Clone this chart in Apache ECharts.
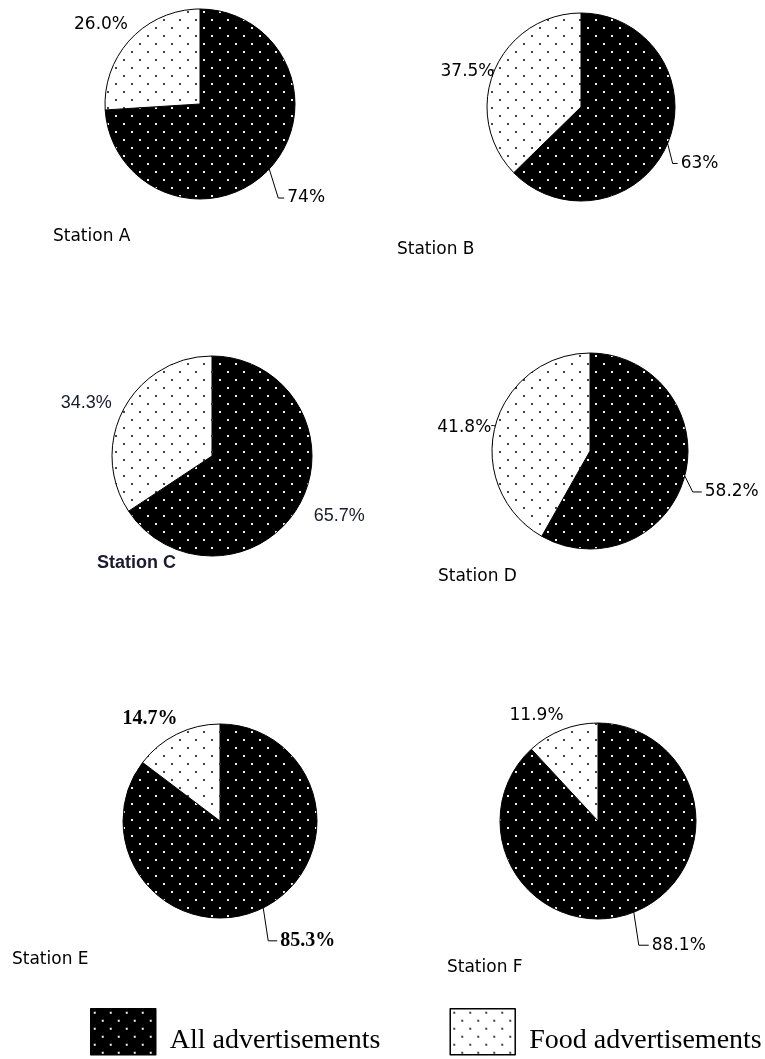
<!DOCTYPE html>
<html><head><meta charset="utf-8">
<script src="https://cdn.jsdelivr.net/npm/echarts@6/dist/echarts.min.js"></script>
<style>html,body{margin:0;padding:0;background:#fff}#c{width:765px;height:1059px}</style>
</head><body><div id="c"></div>
<script>
// ---- data ----
const stations = ['Station A', 'Station B', 'Station C', 'Station D', 'Station E', 'Station F'];
const seriesNames = ['All advertisements', 'Food advertisements'];
const allAds = [74, 63, 65.7, 58.2, 85.3, 88.1];
const foodAds = [26.0, 37.5, 34.3, 41.8, 14.7, 11.9];
const allLabels = ['74%', '63%', '65.7%', '58.2%', '85.3%', '88.1%'];
const foodLabels = ['26.0%', '37.5%', '34.3%', '41.8%', '14.7%', '11.9%'];

// ---- styles / layout ----
function dotPattern(bg, dot) {
  const c = document.createElement('canvas');
  c.width = 16; c.height = 16;
  const g = c.getContext('2d');
  g.fillStyle = bg; g.fillRect(0, 0, 16, 16);
  g.fillStyle = dot;
  g.fillRect(3, 3, 2, 2);
  g.fillRect(11, 11, 2, 2);
  return c;
}
const darkFill = { image: dotPattern('#000', '#f0f0f0'), repeat: 'repeat' };
const lightFill = { image: dotPattern('#fff', '#444'), repeat: 'repeat' };

const fontPix = { fontFamily: 'DejaVu Sans', fontSize: 17, color: '#000' };
const fontC = { fontFamily: 'Liberation Sans', fontSize: 18, color: '#1a1a30' };
const fontE = { fontFamily: 'Liberation Serif', fontSize: 20, fontWeight: 'bold', color: '#000' };

const pies = [
  { center: [200, 104], r: 95, font: fontPix, all: [true, 22, 8], food: [false, 12, 0] },
  { center: [581, 107], r: 94, font: fontPix, all: [true, 15, 5], food: [true, 2, 2] },
  { center: [212, 456], r: 100, font: fontC, all: [false, 12, 0], food: [false, 8, 0] },
  { center: [590, 451], r: 98, font: fontPix, all: [true, 12, 6], food: [true, 2, 2] },
  { center: [220, 821], r: 97, font: fontE, all: [true, 30, 8], food: [false, 14, 0] },
  { center: [598, 821], r: 98, font: fontPix, all: [true, 30, 10], food: [false, 10, 0] }
];
// leader-line shape for the "All" labels: [down-right dx, dy, horizontal tail]
const lineGeo = [[9, 29, 6], [5, 20, 5], null, [8, 16, 9], [5, 33, 9], [5, 33, 10]];
const allShift = [[0, 0], [0, 0], [0, 7], [0, 0], [0, 0], [0, 0]];
const foodShift = [[9, -6], [7, 2], [-2, -2], [3, 2], [10, -3], [8, -5]];
const titlePos = [[53, 227], [397, 240], [97, 553], [438, 567], [12, 950], [447, 958]];

const chart = echarts.init(document.getElementById('c'), null, { renderer: 'canvas' });
chart.setOption({
  animation: false,
  backgroundColor: '#fff',
  title: stations.map((s, i) => ({
    text: s, left: titlePos[i][0], top: titlePos[i][1], padding: 0,
    textStyle: i === 2
      ? { fontFamily: 'Liberation Sans', fontSize: 18, fontWeight: 'bold', color: '#1a1a30', lineHeight: 20 }
      : { fontFamily: 'DejaVu Sans', fontSize: 17, fontWeight: 'normal', color: '#000', lineHeight: 20 }
  })),
  legend: {
    data: seriesNames,
    left: 90, top: 1008, padding: 0,
    icon: 'rect',
    itemWidth: 65, itemHeight: 46, itemGap: 69,
    selectedMode: false,
    itemStyle: { borderColor: '#000', borderWidth: 1.5 },
    formatter: '{t|{name}}',
    textStyle: {
      fontFamily: 'Liberation Serif', fontSize: 28, color: '#000',
      rich: { t: { fontFamily: 'Liberation Serif', fontSize: 28, color: '#000', padding: [18, 0, 0, 9] } }
    }
  },
  series: stations.map((s, i) => {
    const p = pies[i];
    return {
      type: 'pie', name: s, center: p.center, radius: p.r,
      startAngle: 90, clockwise: true, avoidLabelOverlap: false, silent: true,
      itemStyle: { borderColor: '#000', borderWidth: 1 },
      label: Object.assign({ show: true, position: 'outside', distanceToLabelLine: 3 }, p.font),
      labelLine: { lineStyle: { color: '#000', width: 1 } },
      emphasis: { disabled: true },
      labelLayout: function (params) {
        if (params.dataIndex === 0) {
          const geo = lineGeo[i];
          if (geo && params.labelLinePoints) {
            const p0 = params.labelLinePoints[0];
            const p1 = [p0[0] + geo[0], p0[1] + geo[1]];
            const p2 = [p1[0] + geo[2], p1[1]];
            return { x: p2[0] + 3, y: p2[1], align: 'left', verticalAlign: 'middle', labelLinePoints: [p0, p1, p2] };
          }
          return { dx: allShift[i][0], dy: allShift[i][1] };
        }
        return { dx: foodShift[i][0], dy: foodShift[i][1] };
      },
      data: [
        { name: seriesNames[0], value: allAds[i], itemStyle: { color: darkFill },
          label: { formatter: allLabels[i] },
          labelLine: { show: p.all[0], length: p.all[1], length2: p.all[2] } },
        { name: seriesNames[1], value: foodAds[i], itemStyle: { color: lightFill },
          label: { formatter: foodLabels[i] },
          labelLine: { show: p.food[0], length: p.food[1], length2: p.food[2] } }
      ]
    };
  })
});
</script>
</body></html>
